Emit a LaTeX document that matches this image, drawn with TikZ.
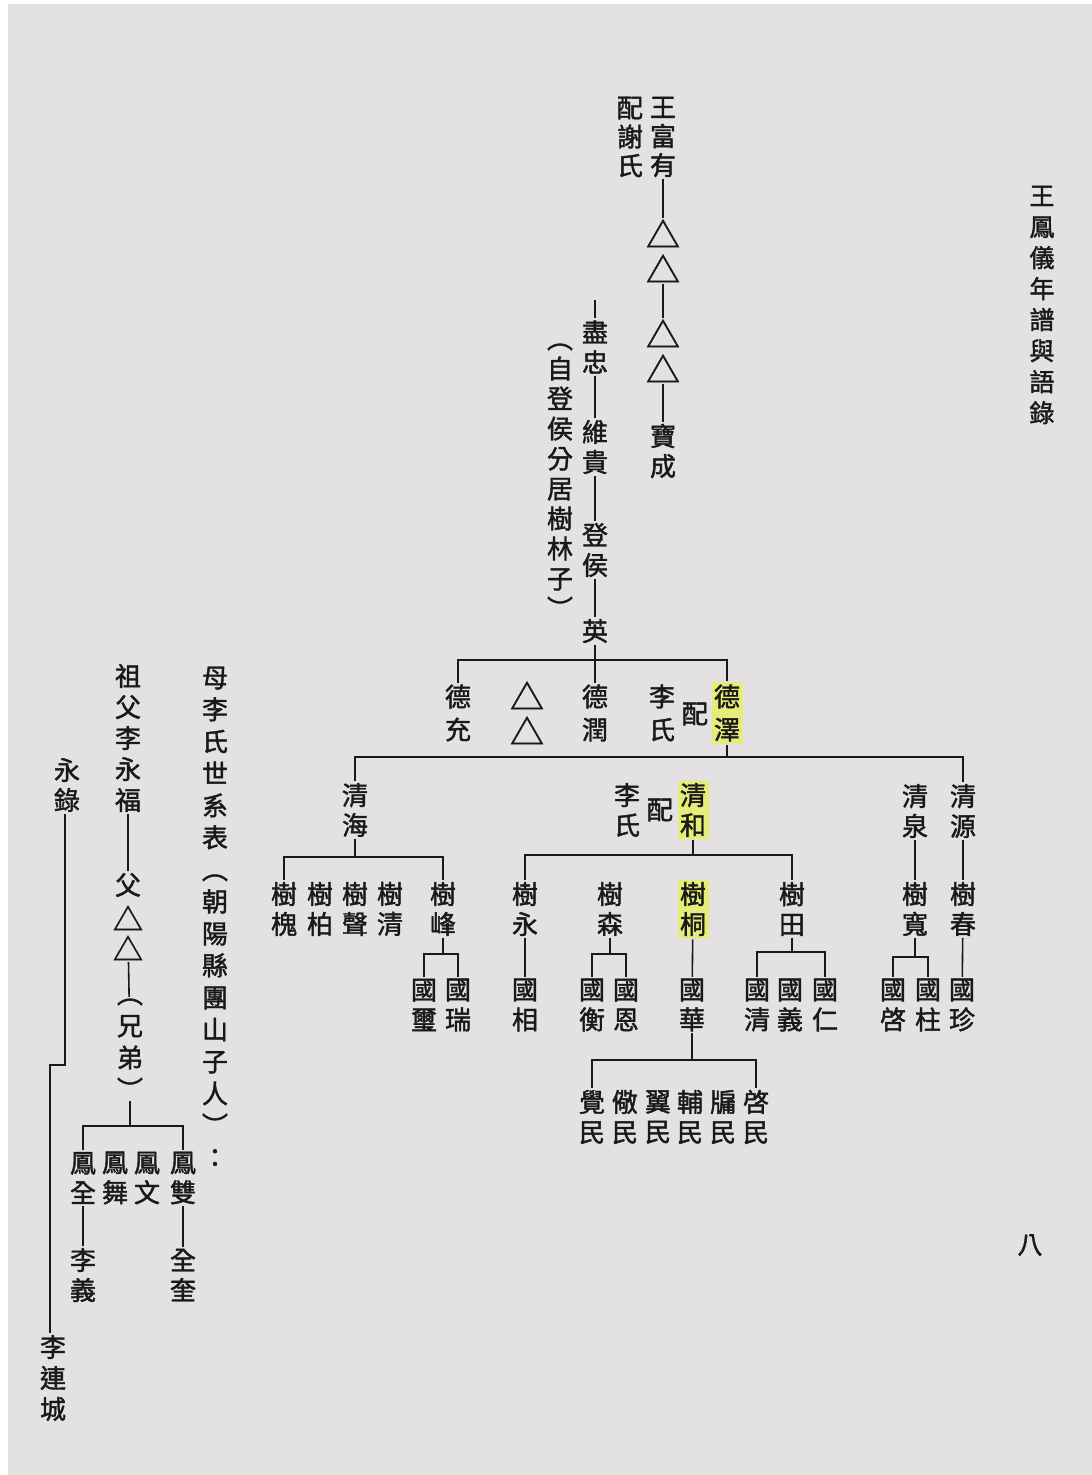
\documentclass[tikz,border=0pt]{standalone}
\usepackage{fontspec}
\newfontfamily\cjk{Noto Sans CJK TC}[FakeBold=1.6]
\definecolor{paper}{RGB}{227,225,226}
\definecolor{ink}{RGB}{25,25,25}
\definecolor{hly}{RGB}{230,236,120}
\begin{document}
\begin{tikzpicture}[x=1pt,y=-1pt,line width=1.6pt,color=ink,
  vt/.style={align=center,inner sep=1pt,text=ink,font=\cjk\fontsize{26}{30}\selectfont},
  vtw/.style={vt,font=\cjk\fontsize{26}{33}\selectfont},
  tri/.style={align=center,inner sep=1pt,text=ink,font=\cjk\fontsize{34}{35}\selectfont},
  hl/.style={fill=hly,inner sep=2.5pt}]
\useasboundingbox (0,0) rectangle (1092,1475);
\fill[white] (0,0) rectangle (1092,1475);
\fill[paper] (8,4) rectangle (1092,1475);

% title and page number
\node[vt,font=\cjk\fontsize{25}{31}\selectfont] (title) at (1042,305) {王\\鳳\\儀\\年\\譜\\與\\語\\錄};
\node[vt,font=\cjk\fontsize{25}{28}\selectfont] (page) at (1030,1245) {八};

% Wang line
\node[vt,font=\cjk\fontsize{26}{29}\selectfont] (wfy) at (663,137) {王\\富\\有};
\node[vt,font=\cjk\fontsize{26}{29}\selectfont] (xie) at (630,137) {配\\謝\\氏};
\node[tri] (t1) at (663,251) {△\\△};
\node[tri] (t2) at (663,351) {△\\△};
\node[vt] (bc) at (663,451) {寶\\成};
\draw (wfy) -- (t1);
\draw (t1) -- (t2);
\draw (t2) -- (bc);

\coordinate (jtop) at (595,300);
\node[vt] (jz) at (595,347) {盡\\忠};
\node[vt] (wg) at (595,447) {維\\貴};
\node[vt] (dh) at (595,550) {登\\侯};
\node[vt] (ying) at (595,631) {英};
\node[vt] (note) at (560,481) {︵\\自\\登\\侯\\分\\居\\樹\\林\\子\\︶};
\draw (jtop) -- (jz);
\draw (jz) -- (wg);
\draw (wg) -- (dh);
\draw (dh) -- (ying);

% De generation
\coordinate (bA) at (0,660);
\node[vtw] (dc) at (458,713) {德\\充};
\node[tri] (t3) at (527,713) {△\\△};
\node[vtw] (dr) at (595,713) {德\\潤};
\node[vtw] (ls1) at (662,713) {李\\氏};
\node[vt] (pei1) at (695,714) {配};
\node[vtw,hl] (dz) at (727,713) {德\\澤};
\draw (ying) -- (dr);
\draw (dc.north) -- (dc.north |- bA) -- (dz.north |- bA) -- (dz.north);

% Qing generation
\coordinate (bB) at (0,757);
\node[vt] (qh) at (355,810) {清\\海};
\node[vt] (ls2) at (627,810) {李\\氏};
\node[vt] (pei2) at (660,810) {配};
\node[vt,hl] (qhe) at (693,810) {清\\和};
\node[vt] (qq) at (915,811) {清\\泉};
\node[vt] (qy) at (963,811) {清\\源};
\draw (dz.south) -- (dz.south |- bB);
\draw (qh.north) -- (qh.north |- bB) -- (qy.north |- bB) -- (qy.north);

% Shu generation
\coordinate (bC) at (0,857);
\coordinate (bD) at (0,855);
\node[vt] (sh1) at (284,909) {樹\\槐};
\node[vt] (sh2) at (320,909) {樹\\柏};
\node[vt] (sh3) at (355,909) {樹\\聲};
\node[vt] (sh4) at (390,909) {樹\\清};
\node[vt] (sf) at (443,909) {樹\\峰};
\node[vt] (sy) at (525,909) {樹\\永};
\node[vt] (ss) at (610,909) {樹\\森};
\node[vt,hl] (st) at (693,909) {樹\\桐};
\node[vt] (stn) at (792,909) {樹\\田};
\node[vt] (sk) at (915,909) {樹\\寬};
\node[vt] (sc) at (963,909) {樹\\春};
\draw (qh.south) -- (qh.south |- bC);
\draw (sh1.north) -- (sh1.north |- bC) -- (sf.north |- bC) -- (sf.north);
\draw (qhe.south) -- (qhe.south |- bD);
\draw (sy.north) -- (sy.north |- bD) -- (stn.north |- bD) -- (stn.north);
\draw (qq) -- (sk);
\draw (qy) -- (sc);

% Guo generation
\coordinate (bE) at (0,954);
\coordinate (bF) at (0,952);
\coordinate (bG) at (0,957);
\node[vt] (gxi) at (424,1005) {國\\璽};
\node[vt] (gru) at (458,1005) {國\\瑞};
\node[vt] (gxa) at (525,1005) {國\\相};
\node[vt] (ghe) at (592,1005) {國\\衡};
\node[vt] (gen) at (626,1005) {國\\恩};
\node[vt] (ghu) at (692,1005) {國\\華};
\node[vt] (gqi) at (757,1005) {國\\清};
\node[vt] (gyi) at (790,1005) {國\\義};
\node[vt] (gre) at (825,1005) {國\\仁};
\node[vt] (gqs) at (893,1005) {國\\啓};
\node[vt] (gzh) at (928,1005) {國\\柱};
\node[vt] (gzn) at (962,1005) {國\\珍};
\draw (sf.south) -- (sf.south |- bE);
\draw (gxi.north) -- (gxi.north |- bE) -- (gru.north |- bE) -- (gru.north);
\draw (sy) -- (gxa);
\draw (ss.south) -- (ss.south |- bE);
\draw (ghe.north) -- (ghe.north |- bE) -- (gen.north |- bE) -- (gen.north);
\draw (st) -- (ghu);
\draw (stn.south) -- (stn.south |- bF);
\draw (gqi.north) -- (gqi.north |- bF) -- (gre.north |- bF) -- (gre.north);
\draw (sk.south) -- (sk.south |- bG);
\draw (gqs.north) -- (gqs.north |- bG) -- (gzh.north |- bG) -- (gzh.north);
\draw (sc) -- (gzn);

% Min generation
\coordinate (bH) at (0,1060);
\node[vt] (m1) at (592,1117) {覺\\民};
\node[vt] (m2) at (625,1117) {儆\\民};
\node[vt] (m3) at (658,1117) {翼\\民};
\node[vt] (m4) at (690,1117) {輔\\民};
\node[vt] (m5) at (723,1117) {牖\\民};
\node[vt] (m6) at (756,1117) {啓\\民};
\draw (ghu.south) -- (ghu.south |- bH);
\draw (m1.north) -- (m1.north |- bH) -- (m6.north |- bH) -- (m6.north);

% Mother's (Li) lineage
\node[vt,font=\cjk\fontsize{26}{32}\selectfont] (mls) at (215,917) {母\\李\\氏\\世\\系\\表\\︵\\朝\\陽\\縣\\團\\山\\子\\人\\︶\\：};
\node[vt,font=\cjk\fontsize{26}{31}\selectfont] (zf) at (128,738) {祖\\父\\李\\永\\福};
\node[vt] (fu) at (128,885) {父};
\node[tri,font=\cjk\fontsize{30}{30}\selectfont] (t4) at (128,933) {△\\△};
\node[vt,font=\cjk\fontsize{26}{32}\selectfont] (xd) at (130,1049) {︵\\兄\\弟\\︶};
\draw (zf) -- (fu);
\draw (t4) -- (xd);

\coordinate (bI) at (0,1126);
\node[vt] (fq) at (83,1178) {鳳\\全};
\node[vt] (fw) at (115,1178) {鳳\\舞};
\node[vt] (fwn) at (147,1178) {鳳\\文};
\node[vt] (fs) at (183,1178) {鳳\\雙};
\node[vt] (lyi) at (83,1275) {李\\義};
\node[vt] (qk) at (183,1275) {全\\奎};
\draw (xd.south) -- (xd.south |- bI);
\draw (fq.north) -- (fq.north |- bI) -- (fs.north |- bI) -- (fs.north);
\draw (fq) -- (lyi);
\draw (fs) -- (qk);

\node[vt] (yl) at (67,785) {永\\錄};
\node[vt,font=\cjk\fontsize{26}{31}\selectfont] (llc) at (53,1378) {李\\連\\城};
\coordinate (j1) at (65,1065);
\coordinate (j2) at (50,1065);
\draw (yl.south -| j1) -- (j1) -- (j2) -- (llc.north -| j2);
\end{tikzpicture}
\end{document}
